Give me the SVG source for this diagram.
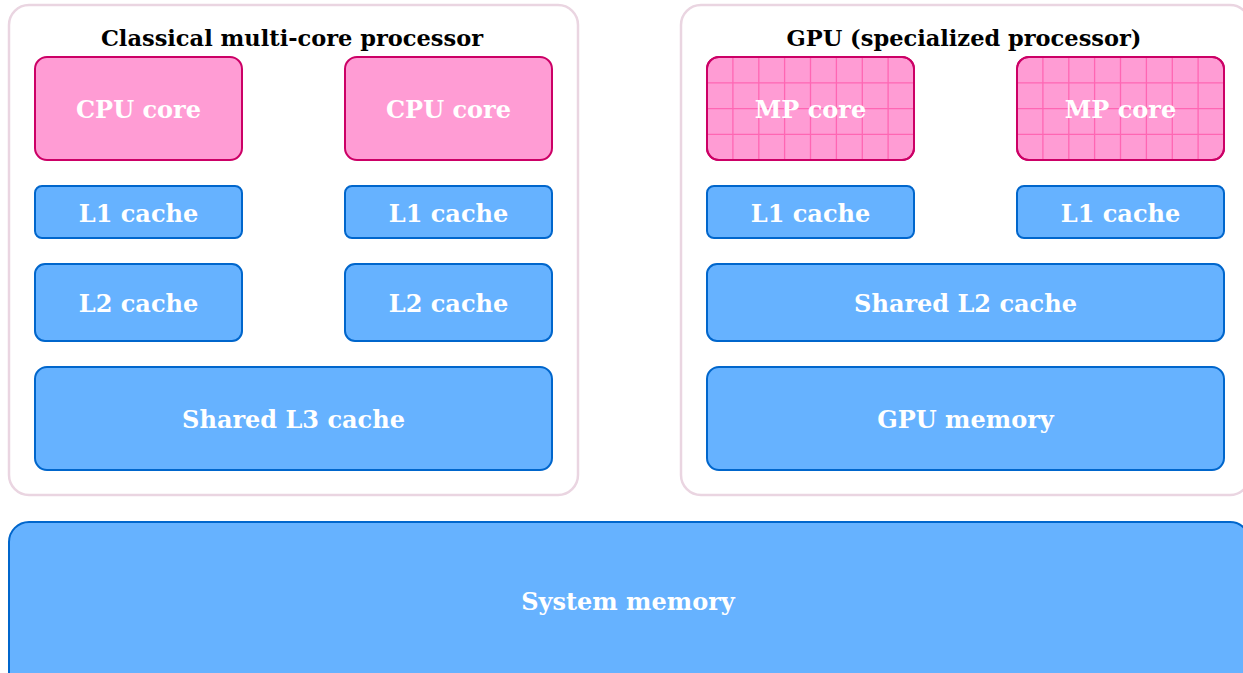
<svg xmlns="http://www.w3.org/2000/svg" xmlns:xlink="http://www.w3.org/1999/xlink" width="1243" height="673" viewBox="0 0 1243 673">
<style>
.cont{fill:#ffffff;stroke:#ead5e1;stroke-width:2.5}
.core{fill:#ff9cd4;stroke:#cc0066;stroke-width:2}
.nofill{fill:none;stroke:#cc0066;stroke-width:2}
.mem{fill:#66b2ff;stroke:#0066cc;stroke-width:2}
.grid{fill:none;stroke:#ff66b3;stroke-width:1.3}
.lbl{font-family:"DejaVu Serif","Liberation Serif",serif;font-weight:bold;font-size:24px;fill:#ffffff;text-anchor:middle}
.title{font-family:"DejaVu Serif","Liberation Serif",serif;font-weight:bold;font-size:22.5px;fill:#000000;text-anchor:middle}
</style>
<defs>
<path id="gridlines" class="grid" d="M25.9,0V103M51.8,0V103M77.6,0V103M103.5,0V103M129.4,0V103M155.3,0V103M181.1,0V103M0,25.8H207M0,51.6H207M0,77.4H207"/>
</defs>
<rect width="1243" height="673" fill="#ffffff"/>
<g id="classical">
<rect class="cont" x="9" y="5" width="569" height="490" rx="20"/>
<text class="title" x="292" y="46">Classical multi-core processor</text>
</g>
<g id="gpu">
<rect class="cont" x="681" y="5" width="569" height="490" rx="20"/>
<text class="title" x="964" y="46">GPU (specialized processor)</text>
</g>
<g id="cpu-core-1"><rect class="core" x="35" y="57" width="207" height="103" rx="12"/><text class="lbl" x="138.5" y="117.5">CPU core</text></g>
<g id="cpu-core-2"><rect class="core" x="345" y="57" width="207" height="103" rx="12"/><text class="lbl" x="448.5" y="117.5">CPU core</text></g>
<g id="l1-cpu-1"><rect class="mem" x="35" y="186" width="207" height="52" rx="7"/><text class="lbl" x="138.5" y="221.5">L1 cache</text></g>
<g id="l1-cpu-2"><rect class="mem" x="345" y="186" width="207" height="52" rx="7"/><text class="lbl" x="448.5" y="221.5">L1 cache</text></g>
<g id="l2-cpu-1"><rect class="mem" x="35" y="264" width="207" height="77" rx="10"/><text class="lbl" x="138.5" y="311.5">L2 cache</text></g>
<g id="l2-cpu-2"><rect class="mem" x="345" y="264" width="207" height="77" rx="10"/><text class="lbl" x="448.5" y="311.5">L2 cache</text></g>
<g id="l3-shared"><rect class="mem" x="35" y="367" width="517" height="103" rx="12"/><text class="lbl" x="293.5" y="427.5">Shared L3 cache</text></g>
<g id="mp-core-1"><rect class="core" x="707" y="57" width="207" height="103" rx="12" stroke="none"/><use xlink:href="#gridlines" transform="translate(707,57)"/><rect class="nofill" x="707" y="57" width="207" height="103" rx="12"/><text class="lbl" x="810.5" y="117.5">MP core</text></g>
<g id="mp-core-2"><rect class="core" x="1017" y="57" width="207" height="103" rx="12" stroke="none"/><use xlink:href="#gridlines" transform="translate(1017,57)"/><rect class="nofill" x="1017" y="57" width="207" height="103" rx="12"/><text class="lbl" x="1120.5" y="117.5">MP core</text></g>
<g id="l1-gpu-1"><rect class="mem" x="707" y="186" width="207" height="52" rx="7"/><text class="lbl" x="810.5" y="221.5">L1 cache</text></g>
<g id="l1-gpu-2"><rect class="mem" x="1017" y="186" width="207" height="52" rx="7"/><text class="lbl" x="1120.5" y="221.5">L1 cache</text></g>
<g id="l2-gpu-shared"><rect class="mem" x="707" y="264" width="517" height="77" rx="10"/><text class="lbl" x="965.5" y="311.5">Shared L2 cache</text></g>
<g id="gpu-memory"><rect class="mem" x="707" y="367" width="517" height="103" rx="12"/><text class="lbl" x="965.5" y="427.5">GPU memory</text></g>
<g id="system-memory"><rect class="mem" x="9" y="522" width="1241" height="170" rx="20"/><text class="lbl" x="628" y="609.5">System memory</text></g>
<g id="connectors"></g>
</svg>
